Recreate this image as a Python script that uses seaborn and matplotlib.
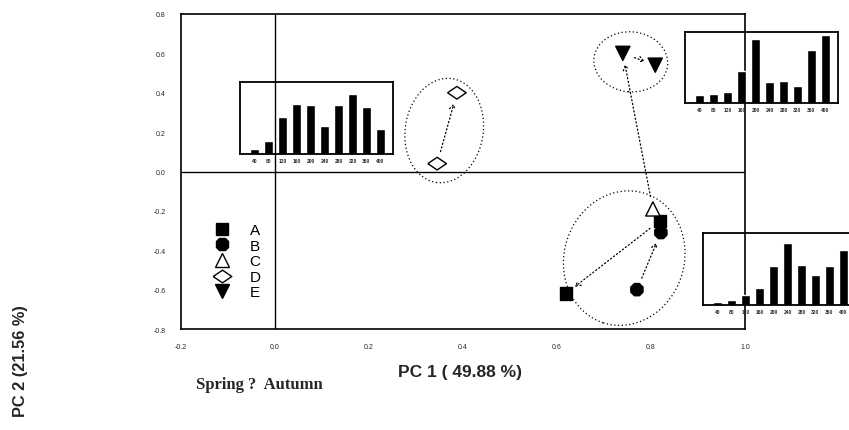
import numpy as np
import pandas as pd
import matplotlib
matplotlib.use('Agg')
import matplotlib.pyplot as plt
from matplotlib.patches import Ellipse
from matplotlib.transforms import ScaledTranslation
import seaborn as sns

# PCA scores of the sampling sites (first point = spring, second = autumn)
sites = ['A', 'A', 'B', 'B', 'C', 'D', 'D', 'E', 'E']
pc1 = [0.819, 0.619, 0.770, 0.821, 0.804, 0.345, 0.387, 0.740, 0.809]
pc2 = [-0.25, -0.62, -0.60, -0.31, -0.19, 0.04, 0.40, 0.60, 0.54]

# spring -> autumn moves (index pairs into the arrays above)
moves = [(0, 1), (2, 3), (5, 6), (7, 8), (4, 7)]

# size-class histograms shown in the insets
size_classes = ['40', '80', '120', '160', '200', '240', '280', '320', '360', '400']
hist_left = [1.5, 4.0, 11.0, 15.0, 14.5, 8.5, 14.5, 18.0, 14.0, 7.5]
hist_top_right = [2.4, 2.7, 3.2, 9.7, 19.2, 6.2, 6.7, 5.2, 15.7, 20.2]
hist_bottom_right = [1.0, 1.5, 3.0, 5.0, 11.5, 18.5, 12.0, 9.0, 11.5, 16.5]

x_ticks = [-0.2, 0.0, 0.2, 0.4, 0.6, 0.8, 1.0]
y_ticks = [-0.8, -0.6, -0.4, -0.2, 0.0, 0.2, 0.4, 0.6, 0.8]

df = pd.DataFrame({'site': sites, 'pc1': pc1, 'pc2': pc2})

sns.set_style('white')
plt.rcParams['font.family'] = ['Liberation Sans', 'DejaVu Sans']

fig = plt.figure(figsize=(8.49, 4.31), dpi=100)
ax = fig.add_axes([0.2132, 0.2343, 0.6643, 0.7309])

ax.axhline(0, color='black', lw=1, zorder=1)
ax.axvline(0, color='black', lw=1, zorder=1)

# dotted group ellipses: centre in data units, size in inches, angle in degrees
groups = [(0.360, 0.208, 0.78, 1.05, -9),
          (0.757, 0.557, 0.74, 0.60, -5),
          (0.743, -0.44, 1.20, 1.36, -18)]
for cx, cy, w, h, ang in groups:
    tr = fig.dpi_scale_trans + ScaledTranslation(cx, cy, ax.transData)
    ax.add_patch(Ellipse((0, 0), w, h, angle=ang, transform=tr, fill=False,
                         ec='black', lw=0.9, ls=(0, (1, 2)), zorder=2))

for a, b in moves:
    ax.annotate('', xy=(pc1[b], pc2[b]), xytext=(pc1[a], pc2[a]),
                arrowprops=dict(arrowstyle='->,head_length=0.35,head_width=0.2',
                                color='black', lw=0.9, ls=(0, (1, 2)),
                                shrinkA=9, shrinkB=8), zorder=2)

wide_diamond = [(-1, 0), (0, 0.68), (1, 0), (0, -0.68), (-1, 0)]
markers = {'A': 's', 'B': '8', 'C': '^', 'D': wide_diamond, 'E': 'v'}
faces = {'A': 'black', 'B': 'black', 'C': 'white', 'D': 'white', 'E': 'black'}
sizes = {'A': 80, 'B': 90, 'C': 105, 'D': 180, 'E': 105}

sns.scatterplot(data=df, x='pc1', y='pc2', hue='site', style='site', size='site',
                hue_order=list('ABCDE'), palette=faces, markers=markers, sizes=sizes,
                edgecolor='black', linewidth=1, ax=ax, zorder=3)

ax.set_xlim(-0.2, 1.0)
ax.set_ylim(-0.8, 0.8)
ax.set_xticks(x_ticks)
ax.set_yticks(y_ticks)
ax.set_xticklabels([f'{v:.1f}' for v in x_ticks])
ax.set_yticklabels([f'{v:.1f}' for v in y_ticks])
ax.tick_params(axis='x', direction='out', length=4, width=1, pad=6, labelsize=5)
ax.tick_params(axis='y', direction='out', length=6, width=1, pad=5, labelsize=5)
ax.set_xlabel('')
ax.set_ylabel('')
for sp in ax.spines.values():
    sp.set_visible(True)
    sp.set_color('black')
    sp.set_linewidth(1.2)

leg = ax.legend(loc='upper left', bbox_to_anchor=(0.035, 0.355), frameon=False,
                fontsize=11, handletextpad=0.8, labelspacing=0.1, borderaxespad=0)
for t in leg.get_texts():
    t.set_color('black')

# inset histograms
insets = [([0.2827, 0.6404, 0.1802, 0.167], hist_left, 21.5),
          ([0.8068, 0.7587, 0.1802, 0.1647], hist_top_right, 21.2),
          ([0.8280, 0.2900, 0.1802, 0.167], hist_bottom_right, 21.4)]
for rect, vals, top in insets:
    iax = fig.add_axes(rect)
    iax.set_facecolor('none')
    sns.barplot(x=size_classes, y=vals, color='black', saturation=1, width=0.68, ax=iax)
    iax.set_xlim(-1.05, 9.9)
    iax.set_ylim(0, top)
    iax.set_yticks([])
    iax.set_xlabel('')
    iax.tick_params(axis='x', length=0, pad=3, labelsize=3.5)
    for lab in iax.get_xticklabels():
        lab.set_fontweight('bold')
    for sp in iax.spines.values():
        sp.set_visible(True)
        sp.set_color('black')
        sp.set_linewidth(1.3)

fig.text(0.542, 0.1346, 'PC 1 ( 49.88 %)', fontsize=12.5, fontweight='bold',
         ha='center', va='center')
fig.text(0.0247, 0.1624, 'PC 2 (21.56 %)', fontsize=11.8, fontweight='bold',
         rotation=90, ha='center', va='center')
fig.text(0.306, 0.1067, 'Spring ?  Autumn', fontsize=12, fontweight='bold',
         family=['Liberation Serif', 'DejaVu Serif'], ha='center', va='center')

fig.savefig('out.png', dpi=100)
